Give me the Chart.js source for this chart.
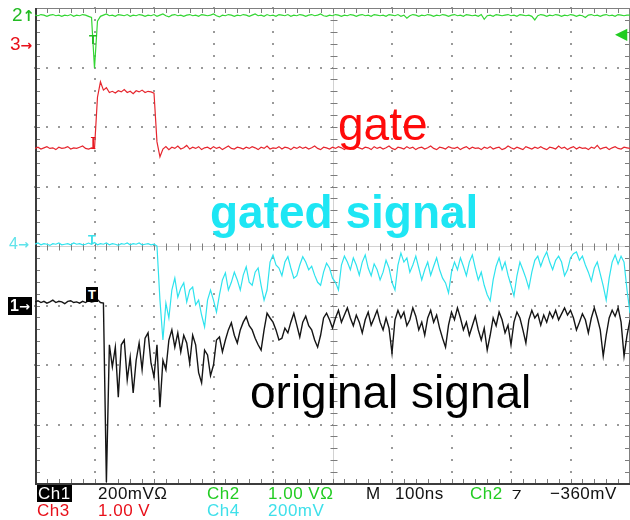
<!DOCTYPE html>
<html>
<head>
<meta charset="utf-8">
<script src="https://cdn.jsdelivr.net/npm/chart.js@4.4.0/dist/chart.umd.min.js"></script>
<style>
    body { margin: 0; background: #fff; }
    #pantalla { position: relative; width: 630px; height: 520px; overflow: hidden; font-family: "Liberation Sans", Arial, sans-serif; }
    #pantalla span { position: absolute; white-space: nowrap; }
    #pantalla b { font-family: "DejaVu Sans", sans-serif; font-weight: bold; }
    .rotulo { font-size: 46px; line-height: 46px; }
    .estado { font-size: 17px; line-height: 17px; letter-spacing: 0.5px; }
    .marca { font-size: 19px; line-height: 19px; }
</style>
</head>
<body>
<div id="pantalla">
    <canvas id="chartOsciloscopio" width="630" height="520"></canvas>

    <!-- marcas de canal a la izquierda -->
    <span class="marca" style="left:12px;top:5px;color:#22bb22">2<b style="font-size:15px">&#8593;</b></span>
    <span class="marca" style="left:10px;top:34px;color:#e8101a">3<b style="font-size:14px">&#8594;</b></span>
    <span class="marca" style="left:9px;top:236px;color:#5fe3ea;font-size:16px;line-height:16px">4<b style="font-size:13px">&#8594;</b></span>
    <span class="marca" style="left:8px;top:297px;color:#fff;background:#000;padding:0 2px;font-size:16px;line-height:17px;font-weight:bold">1<b style="font-size:13px">&#8594;</b></span>
    <span class="marca" style="left:615px;top:26px;color:#22cc22;font-size:16px;line-height:16px">&#9664;</span>

    <!-- marcas de disparo sobre las trazas -->
    <span class="marca" style="left:86px;top:287px;color:#fff;background:#000;padding:0 2px;font-size:13px;line-height:15px;font-weight:bold">T</span>
    <span class="marca" style="left:89px;top:33px;color:#22bb22;font-size:13px;line-height:13px;font-weight:bold">T</span>
    <span class="marca" style="left:90px;top:136px;color:#e8101a;font-size:16px;line-height:16px;font-family:'DejaVu Serif',serif">I</span>
    <span class="marca" style="left:88px;top:233px;color:#3ee0ea;font-size:13px;line-height:13px;font-weight:bold">T</span>

    <!-- rotulos de las trazas -->
    <span class="rotulo" style="left:338px;top:101px;color:#ff0a0a">gate</span>
    <span class="rotulo" style="left:210px;top:189px;color:#1ee6f4;font-weight:bold">gated signal</span>
    <span class="rotulo" style="left:250px;top:369px;color:#000">original signal</span>

    <!-- barra de estado -->
    <span class="estado" style="left:37px;top:485px;color:#fff;background:#000;padding:0 1px">Ch1</span>
    <span class="estado" style="left:98px;top:485px;color:#111">200mV&#937;</span>
    <span class="estado" style="left:207px;top:485px;color:#22cc22">Ch2</span>
    <span class="estado" style="left:268px;top:485px;color:#22cc22">1.00 V&#937;</span>
    <span class="estado" style="left:366px;top:485px;color:#111">M</span>
    <span class="estado" style="left:395px;top:485px;color:#111">100ns</span>
    <span class="estado" style="left:470px;top:485px;color:#22cc22">Ch2</span>
    <span class="estado" style="left:512px;top:485px;color:#111">&#8266;</span>
    <span class="estado" style="left:550px;top:485px;color:#111">&#8722;360mV</span>
    <span class="estado" style="left:37px;top:502px;color:#e8101a">Ch3</span>
    <span class="estado" style="left:98px;top:502px;color:#e8101a">1.00 V</span>
    <span class="estado" style="left:207px;top:502px;color:#3ee0ea">Ch4</span>
    <span class="estado" style="left:268px;top:502px;color:#3ee0ea">200mV</span>
</div>

<script>
// SECCIÓN 1: DATOS (en divisiones de pantalla, una muestra cada 5 ns)

const inicioNs = -100;
const pasoNs = 5;
const finNs = 900;
const centroNs = 400;

// Ch2 - señal de disparo (verde)
const canal2 = [
    3.88,3.87,3.89,3.88,3.86,3.88,3.89,3.87,3.88,3.86,
    3.88,3.87,3.89,3.86,3.88,3.87,3.89,3.88,3.86,3.84,
    2.99,3.78,3.86,3.88,3.90,3.87,3.88,3.86,3.89,3.88,
    3.87,3.89,3.86,3.88,3.87,3.89,3.88,3.86,3.88,3.87,
    3.89,3.86,3.88,3.90,3.87,3.85,3.88,3.89,3.87,3.88,
    3.86,3.88,3.89,3.87,3.88,3.86,3.89,3.88,3.87,3.88,
    3.90,3.87,3.85,3.88,3.87,3.89,3.88,3.86,3.88,3.87,
    3.89,3.88,3.86,3.88,3.90,3.87,3.88,3.86,3.89,3.87,
    3.88,3.86,3.89,3.88,3.87,3.89,3.86,3.88,3.87,3.89,
    3.88,3.86,3.88,3.89,3.87,3.88,3.90,3.87,3.86,3.88,
    3.87,3.89,3.88,3.86,3.88,3.87,3.89,3.88,3.86,3.88,
    3.89,3.87,3.88,3.86,3.89,3.88,3.87,3.88,3.86,3.89,
    3.88,3.87,3.89,3.86,3.88,3.83,3.87,3.89,3.88,3.86,
    3.88,3.87,3.89,3.88,3.86,3.88,3.87,3.89,3.88,3.86,
    3.88,3.89,3.87,3.88,3.86,3.89,3.88,3.87,3.88,3.86,
    3.89,3.81,3.87,3.88,3.86,3.89,3.88,3.87,3.88,3.89,
    3.87,3.88,3.86,3.89,3.88,3.87,3.88,3.86,3.80,3.87,
    3.89,3.88,3.86,3.88,3.87,3.89,3.88,3.86,3.88,3.87,
    3.89,3.88,3.86,3.88,3.87,3.84,3.88,3.89,3.87,3.88,
    3.86,3.88,3.89,3.87,3.88,3.86,3.89,3.88,3.87,3.88,
    3.88
];

// Ch3 - puerta (rojo)
const canal3 = [
    1.64,1.66,1.63,1.65,1.67,1.64,1.65,1.62,1.66,1.64,
    1.65,1.67,1.63,1.65,1.64,1.66,1.68,1.64,1.63,1.65,
    1.64,2.50,2.76,2.62,2.66,2.58,2.60,2.57,2.61,2.59,
    2.63,2.58,2.60,2.56,2.61,2.59,2.62,2.58,2.60,2.59,
    2.57,1.75,1.50,1.63,1.67,1.62,1.66,1.64,1.68,1.63,
    1.65,1.69,1.63,1.66,1.64,1.67,1.62,1.65,1.66,1.63,
    1.67,1.64,1.66,1.62,1.65,1.68,1.64,1.63,1.66,1.65,
    1.63,1.66,1.64,1.67,1.65,1.62,1.66,1.64,1.68,1.63,
    1.65,1.64,1.67,1.63,1.66,1.65,1.62,1.66,1.64,1.67,
    1.64,1.66,1.63,1.65,1.68,1.64,1.62,1.66,1.65,1.63,
    1.66,1.64,1.67,1.65,1.62,1.66,1.64,1.63,1.67,1.65,
    1.63,1.66,1.65,1.62,1.67,1.64,1.66,1.63,1.65,1.68,
    1.64,1.62,1.66,1.65,1.63,1.67,1.64,1.66,1.62,1.65,
    1.66,1.63,1.65,1.68,1.64,1.62,1.66,1.65,1.63,1.67,
    1.65,1.64,1.66,1.62,1.65,1.67,1.63,1.66,1.64,1.65,
    1.62,1.66,1.64,1.67,1.63,1.65,1.66,1.62,1.64,1.68,
    1.65,1.63,1.66,1.64,1.62,1.67,1.65,1.63,1.66,1.64,
    1.67,1.64,1.62,1.66,1.65,1.63,1.68,1.64,1.66,1.62,
    1.65,1.67,1.63,1.66,1.64,1.65,1.62,1.66,1.64,1.69,
    1.63,1.65,1.66,1.62,1.65,1.67,1.64,1.63,1.66,1.65,
    1.64
];

// Ch4 - señal con puerta (cian)
const canal4 = [
    0.03,0.05,0.02,0.04,0.03,0.01,0.04,0.03,0.05,0.02,
    0.03,0.04,0.02,0.05,0.03,0.04,0.02,0.03,0.05,0.03,
    0.06,0.02,0.04,0.03,0.05,0.02,0.04,0.03,0.01,0.04,
    0.03,0.05,0.02,0.04,0.03,0.05,0.02,0.03,0.04,0.02,
    0.03,0.00,-0.91,-1.58,-0.96,-1.21,-0.74,-0.54,-0.86,-0.71,
    -0.62,-0.94,-0.74,-0.69,-0.99,-0.91,-1.16,-1.36,-0.91,-0.74,
    -0.91,-1.11,-0.82,-0.57,-0.45,-0.74,-0.61,-0.44,-0.57,-0.74,
    -0.49,-0.35,-0.61,-0.66,-0.44,-0.37,-0.66,-0.91,-0.74,-0.27,
    -0.15,-0.32,-0.37,-0.50,-0.27,-0.18,-0.37,-0.54,-0.50,-0.32,
    -0.18,-0.27,-0.40,-0.34,-0.49,-0.61,-0.66,-0.44,-0.29,-0.37,
    -0.54,-0.61,-0.74,-0.32,-0.17,-0.27,-0.40,-0.20,-0.32,-0.49,
    -0.27,-0.15,-0.37,-0.50,-0.30,-0.40,-0.57,-0.44,-0.24,-0.37,
    -0.61,-0.74,-0.32,-0.12,-0.27,-0.20,-0.44,-0.32,-0.17,-0.37,
    -0.57,-0.40,-0.27,-0.49,-0.34,-0.20,-0.40,-0.54,-0.62,-0.79,
    -0.44,-0.27,-0.40,-0.20,-0.34,-0.50,-0.27,-0.15,-0.37,-0.57,
    -0.44,-0.66,-0.82,-0.92,-0.57,-0.34,-0.20,-0.40,-0.27,-0.49,
    -0.66,-0.84,-0.50,-0.27,-0.40,-0.54,-0.71,-0.44,-0.24,-0.17,
    -0.34,-0.20,-0.10,-0.27,-0.40,-0.24,-0.17,-0.27,-0.50,-0.40,
    -0.20,-0.13,-0.10,-0.24,-0.17,-0.32,-0.44,-0.59,-0.37,-0.27,
    -0.47,-0.67,-0.91,-0.54,-0.27,-0.15,-0.30,-0.17,-0.27,-0.74,
    -1.13
];

// Ch1 - señal original (negro)
const canal1 = [
    -0.94,-0.92,-0.95,-0.93,-0.96,-0.94,-0.91,-0.95,-0.93,-0.94,
    -0.97,-0.93,-0.92,-0.95,-0.94,-0.96,-0.93,-0.95,-0.92,-0.94,
    -0.93,-0.90,-0.95,-0.96,-3.97,-1.66,-2.03,-1.70,-2.54,-1.66,
    -1.58,-2.25,-1.87,-2.47,-1.92,-1.63,-2.08,-1.55,-1.46,-1.97,
    -2.20,-1.66,-2.71,-1.92,-2.08,-1.58,-1.41,-1.70,-1.46,-1.78,
    -1.50,-1.63,-1.97,-1.50,-1.66,-2.13,-2.30,-1.75,-1.83,-2.18,
    -2.00,-1.58,-1.53,-1.78,-1.58,-1.41,-1.29,-1.50,-1.63,-1.41,
    -1.28,-1.19,-1.34,-1.41,-1.55,-1.66,-1.75,-1.41,-1.13,-1.21,
    -1.28,-1.41,-1.58,-1.55,-1.38,-1.46,-1.28,-1.13,-1.33,-1.53,
    -1.28,-1.18,-1.34,-1.41,-1.58,-1.70,-1.50,-1.21,-1.13,-1.24,
    -1.38,-1.21,-1.08,-1.28,-1.16,-1.04,-1.21,-1.34,-1.16,-1.28,
    -1.46,-1.24,-1.11,-1.33,-1.21,-1.08,-1.28,-1.41,-1.21,-1.38,
    -1.80,-1.24,-1.08,-1.21,-1.11,-1.34,-1.24,-1.04,-1.18,-1.41,
    -1.28,-1.50,-1.21,-1.08,-1.28,-1.16,-1.38,-1.55,-1.70,-1.33,
    -1.11,-1.24,-1.04,-1.21,-1.41,-1.28,-1.50,-1.34,-1.18,-1.41,
    -1.58,-1.38,-1.75,-1.50,-1.21,-1.34,-1.11,-1.24,-1.46,-1.33,
    -1.66,-1.28,-1.11,-1.21,-1.41,-1.63,-1.24,-1.08,-1.21,-1.14,
    -1.33,-1.16,-1.28,-1.11,-1.21,-1.08,-1.24,-1.14,-1.04,-1.16,
    -1.08,-1.21,-1.41,-1.28,-1.14,-1.24,-1.46,-1.21,-1.04,-1.21,
    -1.41,-1.85,-1.50,-1.21,-1.08,-1.18,-1.04,-1.28,-1.85,-1.50,
    -1.24
];

const coloresTrazas = {
    ch1: '#151515',
    ch2: '#33d633',
    ch3: '#e6262e',
    ch4: '#2ee3ee'
};

// SECCIÓN 2: RETÍCULA DEL OSCILOSCOPIO (puntos, ejes centrales, marcas y marco)

function aPuntos(valores) {
    return valores.map((v, i) => ({ x: inicioNs + i * pasoNs, y: v }));
}

const reticula = {
    id: 'reticula',
    beforeDatasetsDraw(chart) {
        const { ctx, chartArea: a, scales: { x, y } } = chart;
        const xc = Math.round(x.getPixelForValue(centroNs)) + 0.5;
        const yc = Math.round(y.getPixelForValue(0)) + 0.5;

        function linea(x1, y1, x2, y2) {
            ctx.beginPath();
            ctx.moveTo(x1, y1);
            ctx.lineTo(x2, y2);
            ctx.stroke();
        }

        ctx.save();
        ctx.lineWidth = 1;

        // líneas punteadas de la retícula (un punto cada 1/5 de división)
        ctx.fillStyle = '#9a9a9a';
        for (let d = 1; d < 10; d++) {
            if (d === 5) continue;
            const px = Math.round(x.getPixelForValue(x.min + d * 100));
            for (let k = 0; k <= 40; k++) {
                const py = Math.round(y.getPixelForValue(y.min + k * 0.2));
                ctx.fillRect(px - 1, py - 1, 2, 2);
            }
        }
        for (let d = 1; d < 8; d++) {
            if (d === 4) continue;
            const py = Math.round(y.getPixelForValue(y.min + d));
            for (let k = 0; k <= 50; k++) {
                const px = Math.round(x.getPixelForValue(x.min + k * 20));
                ctx.fillRect(px - 1, py - 1, 2, 2);
            }
        }

        // ejes centrales
        ctx.strokeStyle = '#d2d2d2';
        linea(a.left, yc, a.right, yc);
        linea(xc, a.top, xc, a.bottom);

        // marcas menores cada 1/5 de división
        ctx.strokeStyle = '#7c7c7c';
        for (let k = 0; k <= 50; k++) {
            const px = Math.round(x.getPixelForValue(x.min + k * 20)) + 0.5;
            linea(px, a.top, px, a.top + 5);
            linea(px, a.bottom, px, a.bottom - 5);
            linea(px, yc - 3, px, yc + 4);
        }
        for (let k = 0; k <= 40; k++) {
            const py = Math.round(y.getPixelForValue(y.min + k * 0.2)) + 0.5;
            linea(a.left, py, a.left + 5, py);
            linea(a.right, py, a.right - 5, py);
            linea(xc - 3, py, xc + 4, py);
        }

        // marco
        ctx.strokeStyle = '#808080';
        linea(a.left, a.top + 0.5, a.right, a.top + 0.5);
        linea(a.right - 0.5, a.top, a.right - 0.5, a.bottom);
        ctx.strokeStyle = '#3c3c3c';
        ctx.lineWidth = 2;
        linea(a.left + 1, a.top, a.left + 1, a.bottom);
        linea(a.left, a.bottom, a.right, a.bottom);
        ctx.restore();
    }
};

// SECCIÓN 3: GRÁFICO

function crearTraza(etiqueta, valores, color, grosor) {
    return {
        label: etiqueta,
        data: aPuntos(valores),
        borderColor: color,
        borderWidth: grosor,
        pointRadius: 0,
        tension: 0,
        fill: false
    };
}

document.addEventListener('DOMContentLoaded', function() {
    const ctx = document.getElementById('chartOsciloscopio').getContext('2d');

    new Chart(ctx, {
        type: 'line',
        data: {
            datasets: [
                crearTraza('Ch2', canal2, coloresTrazas.ch2, 1.2),
                crearTraza('Ch3', canal3, coloresTrazas.ch3, 1.2),
                crearTraza('Ch4', canal4, coloresTrazas.ch4, 1.2),
                crearTraza('Ch1', canal1, coloresTrazas.ch1, 1.4)
            ]
        },
        options: {
            responsive: false,
            animation: false,
            events: [],
            layout: { padding: { left: 35, top: 8, right: 0, bottom: 36 } },
            plugins: {
                legend: { display: false },
                tooltip: { enabled: false }
            },
            scales: {
                x: {
                    type: 'linear',
                    min: inicioNs,
                    max: finNs,
                    ticks: { display: false, stepSize: 100 },
                    grid: { display: false },
                    border: { display: false },
                    afterFit: function(scale) { scale.height = 0; }
                },
                y: {
                    min: -4,
                    max: 4,
                    ticks: { display: false, stepSize: 1 },
                    grid: { display: false },
                    border: { display: false },
                    afterFit: function(scale) { scale.width = 0; }
                }
            }
        },
        plugins: [reticula]
    });
});
</script>
</body>
</html>
